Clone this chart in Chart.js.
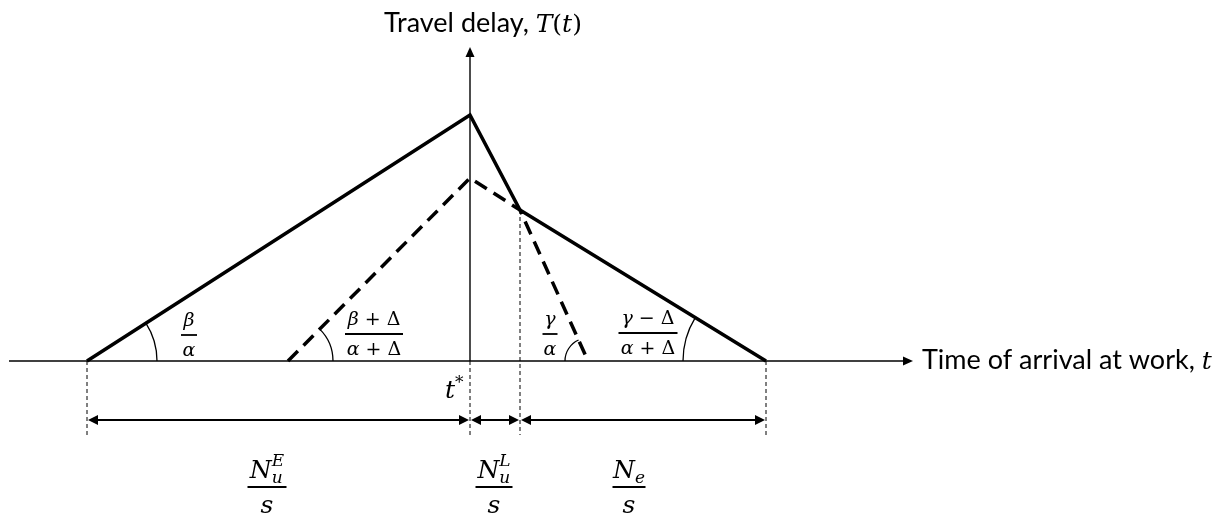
<!DOCTYPE html>
<html lang="en">
  <head>
    <meta charset="UTF-8" />
    <script src="https://cdn.jsdelivr.net/npm/chart.js"></script>
    <title>Travel delay</title>
  </head>
  <body style="margin: 0; background: #fff">
    <div style="width: 1226px; height: 517px">
      <canvas id="delay"></canvas>
    </div>
    <script>
      // time of arrival relative to t*, travel delay
      const solidT = [-3.83, 0, 0.5, 2.96];
      const solidDelay = [0, 2.46, 1.51, 0];
      const dashedT = [-1.82, 0, 0.5, 1.18];
      const dashedDelay = [0, 1.83, 1.51, 0];
      // edges of the three arrival windows on the time axis
      const windowEdges = [-3.83, 0, 0.5, 2.96];

      const xTitle = 'Time of arrival at work, ';
      const yTitle = 'Travel delay, ';
      const sans = '"Lato", "Open Sans", sans-serif';
      const math = '"DejaVu Serif", serif';

      const toPoints = (xs, ys) => xs.map((x, i) => ({ x: x, y: ys[i] }));

      // parts: {t, f, dy, stack} - stack puts the part on top of the previous one (sub + sup)
      function rich(ctx, parts, x, y, align) {
        let cx = 0;
        const items = [];
        parts.forEach(p => {
          ctx.font = p.f;
          const w = ctx.measureText(p.t).width;
          const px = p.stack ? items[items.length - 1].x : cx;
          items.push({ x: px, p: p });
          cx = Math.max(cx, px + w);
        });
        const x0 = align === 'center' ? x - cx / 2 : x;
        ctx.textAlign = 'left';
        ctx.textBaseline = 'alphabetic';
        items.forEach(it => {
          ctx.font = it.p.f;
          ctx.fillText(it.p.t, x0 + it.x, y + (it.p.dy || 0));
        });
      }

      function frac(ctx, cx, barY, num, den, barW, gapUp, gapDown) {
        ctx.lineWidth = 1.8;
        ctx.beginPath();
        ctx.moveTo(cx - barW / 2, barY);
        ctx.lineTo(cx + barW / 2, barY);
        ctx.stroke();
        rich(ctx, num, cx, barY - gapUp, 'center');
        rich(ctx, den, cx, barY + gapDown, 'center');
      }

      function arrowHead(ctx, x, y, dir, len, half) {
        ctx.beginPath();
        if (dir === 'right') { ctx.moveTo(x, y); ctx.lineTo(x - len, y - half); ctx.lineTo(x - len, y + half); }
        if (dir === 'left') { ctx.moveTo(x, y); ctx.lineTo(x + len, y - half); ctx.lineTo(x + len, y + half); }
        if (dir === 'up') { ctx.moveTo(x, y); ctx.lineTo(x - half, y + len); ctx.lineTo(x + half, y + len); }
        ctx.closePath();
        ctx.fill();
      }

      const diagram = {
        id: 'diagram',
        beforeDatasetsDraw(chart) {
          const ctx = chart.ctx, sx = chart.scales.x, sy = chart.scales.y;
          const X = v => sx.getPixelForValue(v), Y = v => sy.getPixelForValue(v);
          ctx.save();
          ctx.strokeStyle = '#000';
          ctx.fillStyle = '#000';
          // time axis
          ctx.lineWidth = 1.6;
          ctx.beginPath();
          ctx.moveTo(X(-4.61), Y(0));
          ctx.lineTo(X(4.35), Y(0));
          ctx.stroke();
          arrowHead(ctx, X(4.43), Y(0), 'right', 10, 4.5);
          // delay axis
          ctx.lineWidth = 1.4;
          ctx.beginPath();
          ctx.moveTo(X(0), Y(0));
          ctx.lineTo(X(0), Y(3.06));
          ctx.stroke();
          arrowHead(ctx, X(0), Y(3.14), 'up', 10, 4.5);
          // dotted guides
          ctx.lineWidth = 1;
          ctx.setLineDash([4, 3]);
          windowEdges.forEach(t => {
            const top = t === 0.5 ? 1.51 : 0;
            ctx.beginPath();
            ctx.moveTo(X(t), Y(top));
            ctx.lineTo(X(t), Y(-0.74));
            ctx.stroke();
          });
          ctx.setLineDash([]);
          // window arrows
          ctx.lineWidth = 2;
          for (let i = 0; i < windowEdges.length - 1; i++) {
            const a = X(windowEdges[i]), b = X(windowEdges[i + 1]), y = Y(-0.59);
            ctx.beginPath();
            ctx.moveTo(a + 6, y);
            ctx.lineTo(b - 6, y);
            ctx.stroke();
            arrowHead(ctx, a + 1, y, 'left', 10, 5);
            arrowHead(ctx, b - 1, y, 'right', 10, 5);
          }
          // angle arcs
          ctx.lineWidth = 1.3;
          const arcs = [
            [solidT[0], solidT[1], solidDelay[1], 70, 'left'],
            [dashedT[0], dashedT[1], dashedDelay[1], 45, 'left'],
            [dashedT[3], dashedT[2], dashedDelay[2], 23, 'right'],
            [solidT[3], solidT[2], solidDelay[2], 83, 'right']
          ];
          arcs.forEach(([t0, t1, d1, r, side]) => {
            const x0 = X(t0), y0 = Y(0);
            const a = Math.atan2(Y(d1) - y0, X(t1) - x0);
            ctx.beginPath();
            if (side === 'left') ctx.arc(x0, y0, r, a, 0, false);
            else ctx.arc(x0, y0, r, -Math.PI, a, false);
            ctx.stroke();
          });
          ctx.restore();
        },
        afterDraw(chart) {
          const ctx = chart.ctx, sx = chart.scales.x, sy = chart.scales.y;
          const X = v => sx.getPixelForValue(v), Y = v => sy.getPixelForValue(v);
          ctx.save();
          ctx.fillStyle = '#000';
          ctx.strokeStyle = '#000';
          const s = '27px ' + sans, mi = 'italic 25px ' + math, mr = '25px ' + math;
          rich(ctx, [{ t: yTitle, f: s }, { t: 'T', f: mi }, { t: '(', f: mr }, { t: 't', f: mi }, { t: ')', f: mr }],
            X(0.13), Y(3.29), 'center');
          rich(ctx, [{ t: xTitle, f: s }, { t: 't', f: mi }], X(4.52), Y(-0.08), 'left');
          rich(ctx, [{ t: 't', f: 'italic 25px ' + math }, { t: '*', f: '17px ' + math, dy: -10 }],
            X(-0.25), Y(-0.37), 'left');

          const ai = 'italic 19px ' + math, ar = '19px ' + math;
          frac(ctx, X(-2.81), Y(0.26), [{ t: 'β', f: ai }], [{ t: 'α', f: ai }], 16, 9, 21);
          frac(ctx, X(-0.96), Y(0.27), [{ t: 'β', f: ai }, { t: ' + Δ', f: ar }],
            [{ t: 'α', f: ai }, { t: ' + Δ', f: ar }], 58, 9, 21);
          frac(ctx, X(0.80), Y(0.27), [{ t: 'γ', f: ai }], [{ t: 'α', f: ai }], 15, 9, 21);
          frac(ctx, X(1.78), Y(0.28), [{ t: 'γ', f: ai }, { t: ' − Δ', f: ar }],
            [{ t: 'α', f: ai }, { t: ' + Δ', f: ar }], 59, 9, 21);

          const bi = 'italic 25px ' + math, bs = 'italic 17px ' + math;
          const bY = Y(-1.26);
          frac(ctx, X(-2.03), bY, [{ t: 'N', f: bi }, { t: 'u', f: bs, dy: 5 }, { t: 'E', f: bs, dy: -12, stack: true }],
            [{ t: 's', f: bi }], 39, 9, 26);
          frac(ctx, X(0.24), bY, [{ t: 'N', f: bi }, { t: 'u', f: bs, dy: 5 }, { t: 'L', f: bs, dy: -12, stack: true }],
            [{ t: 's', f: bi }], 37, 9, 26);
          frac(ctx, X(1.59), bY, [{ t: 'N', f: bi }, { t: 'e', f: bs, dy: 5 }], [{ t: 's', f: bi }], 33, 9, 26);
          ctx.restore();
        }
      };

      new Chart(document.getElementById('delay'), {
        type: 'scatter',
        data: {
          datasets: [
            {
              data: toPoints(solidT, solidDelay),
              showLine: true,
              borderColor: '#000',
              borderWidth: 3.5,
              pointRadius: 0,
              borderJoinStyle: 'miter'
            },
            {
              data: toPoints(dashedT, dashedDelay),
              showLine: true,
              borderColor: '#000',
              borderWidth: 3.5,
              borderDash: [14, 8],
              pointRadius: 0,
              borderJoinStyle: 'miter'
            }
          ]
        },
        options: {
          responsive: true,
          maintainAspectRatio: false,
          animation: false,
          layout: { padding: 0 },
          plugins: { legend: { display: false }, tooltip: { enabled: false } },
          scales: {
            x: { type: 'linear', min: -4.7, max: 7.56, display: false },
            y: { type: 'linear', min: -1.56, max: 3.61, display: false }
          }
        },
        plugins: [diagram]
      });
    </script>
  </body>
</html>
